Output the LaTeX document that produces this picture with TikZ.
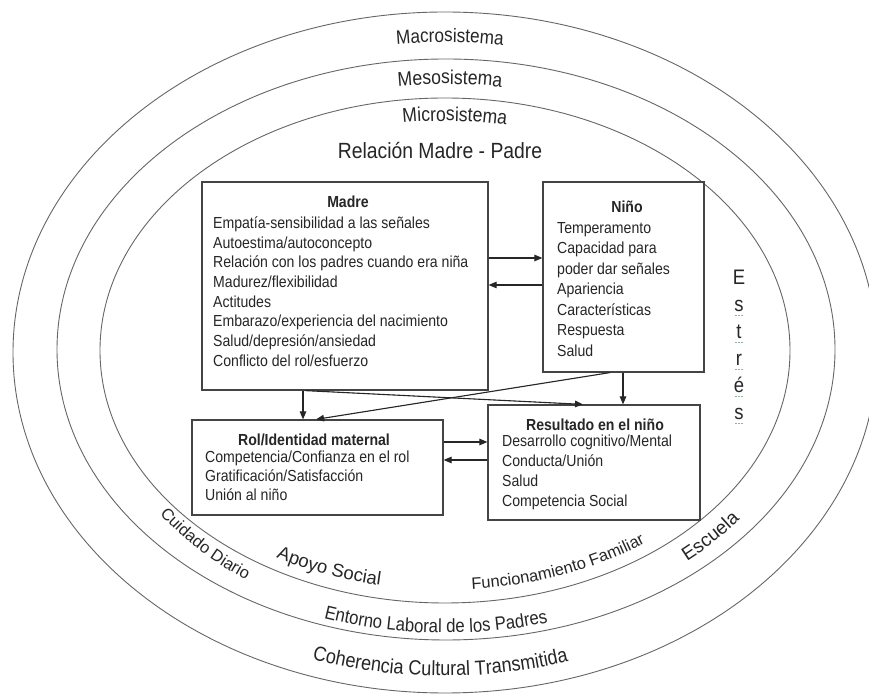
\documentclass[tikz,border=0pt]{standalone}
\usepackage{fontspec}
\setmainfont{Liberation Sans}
\newfontfamily\nf[FakeStretch=0.88]{Liberation Sans}
\usetikzlibrary{arrows.meta,decorations.text,calc}
\definecolor{ink}{HTML}{262626}
\definecolor{ringc}{HTML}{666666}
\definecolor{boxc}{HTML}{444444}
\definecolor{spell}{HTML}{9AAF9A}
\begin{document}
\begin{tikzpicture}[x=1pt,y=1pt,
  ring/.style={draw=ringc, line width=0.9pt},
  box/.style={draw=boxc, line width=1.2pt, inner sep=0pt, fill=none},
  txt/.style={inner sep=0pt, anchor=base west, font=\nf\fontsize{16}{19}\selectfont, text=ink},
  ttl/.style={inner sep=0pt, anchor=base, font=\nf\bfseries\fontsize{16}{19}\selectfont, text=ink},
  big/.style={inner sep=0pt, anchor=base, font=\nf\fontsize{22}{26}\selectfont, text=ink},
  letter/.style={inner sep=0pt, anchor=base, font=\nf\fontsize{21}{24}\selectfont, text=ink},
  arr/.style={-{Triangle[length=8pt,width=6.5pt]}, line width=1.1pt, draw=ink, fill=ink},
  curved/.style={decorate, decoration={text along path, text align=center, text color=ink, text={#1}}},
]
\fill[white] (0,0) rectangle (869,695);
\useasboundingbox (0,0) rectangle (869,695);

% rings
\draw[ring] (445,342.5) ellipse [x radius=432, y radius=340.5];
\draw[ring] (446,345.5) ellipse [x radius=389, y radius=290.5];
\draw[ring] (445,344.5) ellipse [x radius=345, y radius=252.5];

% top labels
\path[curved={|\nf\fontsize{19.5}{23}\selectfont|Macrosistema}]
  ([shift={(109.3:410 and 308)}]445,345) arc[start angle=109.3, end angle=69.3, x radius=410, y radius=308];
\path[curved={|\nf\fontsize{20}{23}\selectfont|Mesosistema}]
  ([shift={(109.2:365 and 266)}]445,345) arc[start angle=109.2, end angle=69.2, x radius=365, y radius=266];
\path[curved={|\nf\fontsize{20}{23}\selectfont|Microsistema}]
  ([shift={(108.2:320 and 229)}]445,345) arc[start angle=108.2, end angle=68.2, x radius=320, y radius=229];
\node[big] (rel) at (440,536) {Relación Madre - Padre};

% bottom labels
\path[curved={|\nf\fontsize{20.5}{24}\selectfont|Coherencia Cultural Transmitida}]
  ([shift={(239.3:419 and 326)}]445,345) arc[start angle=239.3, end angle=299.3, x radius=419, y radius=326];
\path[curved={|\nf\fontsize{19}{22}\selectfont|Entorno Laboral de los Padres}]
  ([shift={(238.5:380 and 283)}]445,345) arc[start angle=238.5, end angle=298.5, x radius=380, y radius=283];
\path[curved={|\fontsize{18.5}{22}\selectfont|Apoyo Social}]
  ([shift={(229:338 and 240)}]445,345) arc[start angle=229, end angle=269, x radius=338, y radius=240];
\path[curved={|\fontsize{16.5}{19}\selectfont|Funcionamiento Familiar}]
  ([shift={(266:338 and 240)}]445,345) arc[start angle=266, end angle=316, x radius=338, y radius=240];
\path[curved={|\fontsize{16.5}{19}\selectfont|Cuidado Diario}]
  ([shift={(205.3:353 and 278.5)}]445,345) arc[start angle=205.3, end angle=245.3, x radius=353, y radius=278.5];
\path[curved={|\fontsize{19}{22}\selectfont|Escuela}]
  ([shift={(297.4:372 and 278)}]445,345) arc[start angle=297.4, end angle=337.4, x radius=372, y radius=278];

% Estres
\node[letter] (e1) at (739,410) {E};
\node[letter] (e2) at (739,383) {s};
\node[letter] (e3) at (739,356) {t};
\node[letter] (e4) at (739,329) {r};
\node[letter] (e5) at (739,302) {é};
\node[letter] (e6) at (739,275) {s};
\foreach \k in {2,...,6}
  \draw[spell, line width=1pt, dash pattern=on 2pt off 1pt] ([xshift=-4pt,yshift=-4pt]e\k.base) -- ([xshift=4pt,yshift=-4pt]e\k.base);

% boxes
\node[box, minimum width=286pt, minimum height=208pt] (madre) at (345,409) {};
\node[box, minimum width=161pt, minimum height=190pt] (nino) at (623.5,418) {};
\node[box, minimum width=251pt, minimum height=95pt] (rol) at (317.5,227.5) {};
\node[box, minimum width=212pt, minimum height=115pt] (res) at (594,232.5) {};

% box texts
\node[ttl] (madreT) at (348,487.5) {Madre};
\foreach \s [count=\i from 0] in {Empatía-sensibilidad  a las señales, Autoestima/autoconcepto,
  Relación con los padres cuando era niña, Madurez/flexibilidad, Actitudes,
  Embarazo/experiencia  del nacimiento, Salud/depresión/ansiedad, Conflicto del rol/esfuerzo}
  \node[txt, name=ml\i] at (213,466.5-19.7*\i) {\s};

\node[ttl] (ninoT) at (627,482.5) {Niño};
\foreach \s [count=\i from 0] in {Temperamento, Capacidad para, poder dar señales, Apariencia,
  Características, Respuesta, Salud}
  \node[txt, name=nl\i] at (557,461.5-20.5*\i) {\s};

\node[ttl] (rolT) at (314,249.5) {Rol/Identidad maternal};
\foreach \s [count=\i from 0] in {Competencia/Confianza  en el rol, Gratificación/Satisfacción, Unión al niño}
  \node[txt, name=rl\i] at (205,232.5-19*\i) {\s};

\node[ttl] (resT) at (595,264.5) {Resultado en el niño};
\foreach \s [count=\i from 0] in {Desarrollo cognitivo/Mental, Conducta/Unión, Salud, Competencia Social}
  \node[txt, name=sl\i] at (502,248-20*\i) {\s};

% connectors
\coordinate (ya) at (0,437);
\coordinate (yb) at (0,410);
\coordinate (yc) at (0,253);
\coordinate (yd) at (0,235);
\coordinate (xa) at (303,0);
\coordinate (xb) at (623,0);
\coordinate (xc) at (305,0);
\coordinate (xd) at (583,0);
\coordinate (xe) at (610,0);
\coordinate (xf) at (316,0);
\draw[arr] (madre.east |- ya) -- (nino.west |- ya);
\draw[arr] (nino.west |- yb) -- (madre.east |- yb);
\draw[arr] (rol.east |- yc) -- (res.west |- yc);
\draw[arr] (res.west |- yd) -- (rol.east |- yd);
\draw[arr] (madre.south -| xa) -- (rol.north -| xa);
\draw[arr] (nino.south -| xb) -- (res.north -| xb);
\draw[arr] (madre.south -| xc) -- (res.north -| xd);
\draw[arr] (nino.south -| xe) -- (rol.north -| xf);
\end{tikzpicture}
\end{document}
